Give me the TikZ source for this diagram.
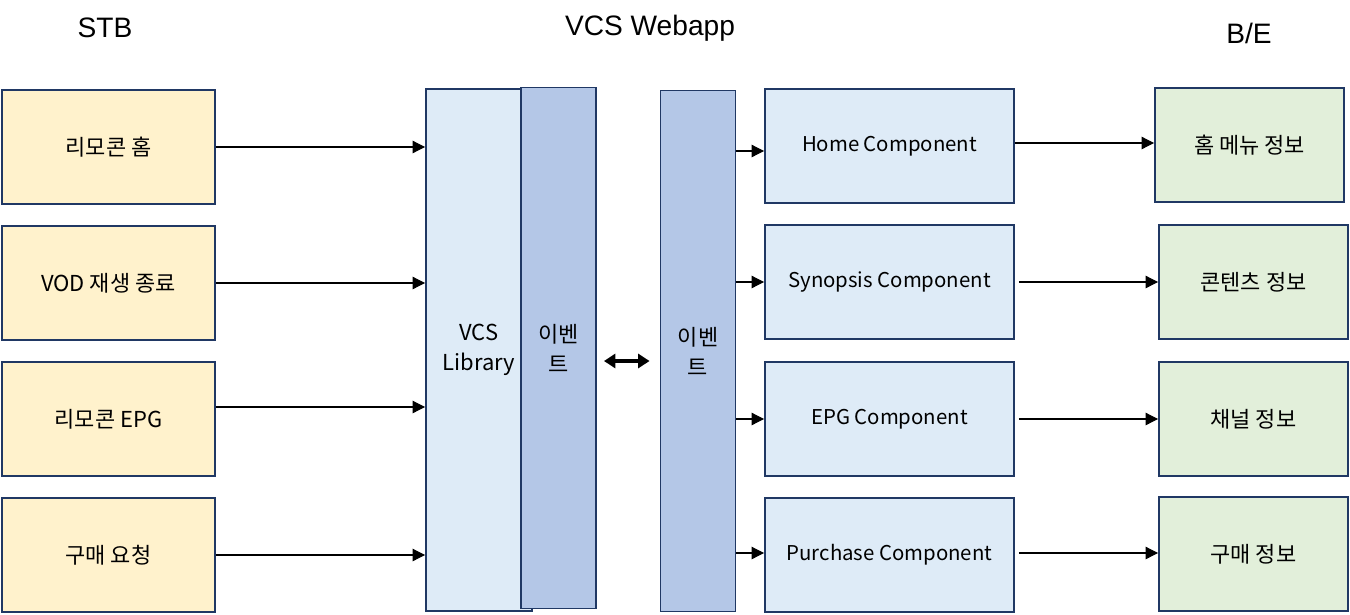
\documentclass[tikz,border=0pt]{standalone}
\usepackage{fontspec}
\setmainfont{Liberation Sans}
\newfontfamily\krfont{Noto Sans CJK KR}
\usetikzlibrary{arrows.meta}
\definecolor{stbyellow}{HTML}{FFF2CC}
\definecolor{applight}{HTML}{DEEBF7}
\definecolor{evtblue}{HTML}{B4C7E7}
\definecolor{begreen}{HTML}{E2EFDA}
\definecolor{boxline}{HTML}{203864}
\tikzset{
    box/.style={draw=boxline, line width=1.1pt, align=center, inner sep=0pt,
        font=\krfont\fontsize{12.5}{17}\selectfont},
    stbbox/.style={box, fill=stbyellow, minimum width=42.6mm, minimum height=22.8mm},
    compbox/.style={box, fill=applight, minimum width=49.8mm, minimum height=22.8mm,
        font=\krfont\fontsize{11.6}{16}\selectfont},
    bebox/.style={box, fill=begreen, minimum width=37.8mm, minimum height=22.8mm},
    evtbox/.style={box, fill=evtblue, minimum width=15mm, minimum height=104.2mm},
    title/.style={font=\fontsize{16}{19}\selectfont},
    link/.style={-{Triangle[length=7pt,width=7pt]}, line width=0.6pt},
    both/.style={{Triangle[length=6.5pt,width=8pt]}-{Triangle[length=6.5pt,width=8pt]}, line width=2pt}
}
\begin{document}
\begin{tikzpicture}[x=0.2mm, y=-0.2mm]
    \useasboundingbox (0,0) rectangle (1350,614);
    \node[title] (stbt) at (105,28) {STB};
    \node[title] (appt) at (650,28) {VCS Webapp};
    \node[title] (bet) at (1249,33) {B/E};

    \node[stbbox] (stb1) at (108.5,147) {리모콘 홈};
    \node[stbbox] (stb2) at (108.5,283) {VOD 재생 종료};
    \node[stbbox] (stb3) at (108.5,419) {리모콘 EPG};
    \node[stbbox] (stb4) at (108.5,555) {구매 요청};

    \node[box, fill=applight, minimum width=21.2mm, minimum height=104.4mm] (lib) at (479,350) {VCS\\Library};
    \node[evtbox] (evl) at (558.5,348) {이벤\\트};
    \node[evtbox] (evr) at (698,351) {이벤\\트};

    \node[compbox] (home) at (889.5,146) {Home Component};
    \node[compbox] (syn) at (889.5,282) {Synopsis Component};
    \node[compbox] (epg) at (889.5,419) {EPG Component};
    \node[compbox] (buy) at (889.5,555) {Purchase Component};

    \node[bebox] (menu) at (1249.5,145) {홈 메뉴 정보};
    \node[bebox] (cont) at (1253.5,282) {콘텐츠 정보};
    \node[bebox] (chan) at (1253.5,419) {채널 정보};
    \node[bebox] (pay) at (1253.5,554) {구매 정보};

    \draw[link] (stb1.east) -- (stb1.east -| lib.west);
    \draw[link] (stb2.east) -- (stb2.east -| lib.west);
    \draw[link] ([yshift=2.4mm]stb3.east) -- ([yshift=2.4mm]stb3.east -| lib.west);
    \draw[link] (stb4.east) -- (stb4.east -| lib.west);

    \draw[both] ([xshift=1.4mm, yshift=-2.6mm]evl.east) -- ([xshift=-2mm, yshift=-2.6mm]evl.east -| evr.west);

    \draw[link] ([yshift=-1mm]home.west -| evr.east) -- ([yshift=-1mm]home.west);
    \draw[link] (syn.west -| evr.east) -- (syn.west);
    \draw[link] (epg.west -| evr.east) -- (epg.west);
    \draw[link] ([yshift=0.4mm]buy.west -| evr.east) -- ([yshift=0.4mm]buy.west);

    \draw[link] ([yshift=0.6mm]home.east) -- ([yshift=0.6mm]home.east -| menu.west);
    \draw[link] ([xshift=0.8mm]syn.east) -- (syn.east -| cont.west);
    \draw[link] ([xshift=0.8mm]epg.east) -- (epg.east -| chan.west);
    \draw[link] ([xshift=0.8mm, yshift=0.4mm]buy.east) -- ([yshift=0.4mm]buy.east -| pay.west);
\end{tikzpicture}
\end{document}
